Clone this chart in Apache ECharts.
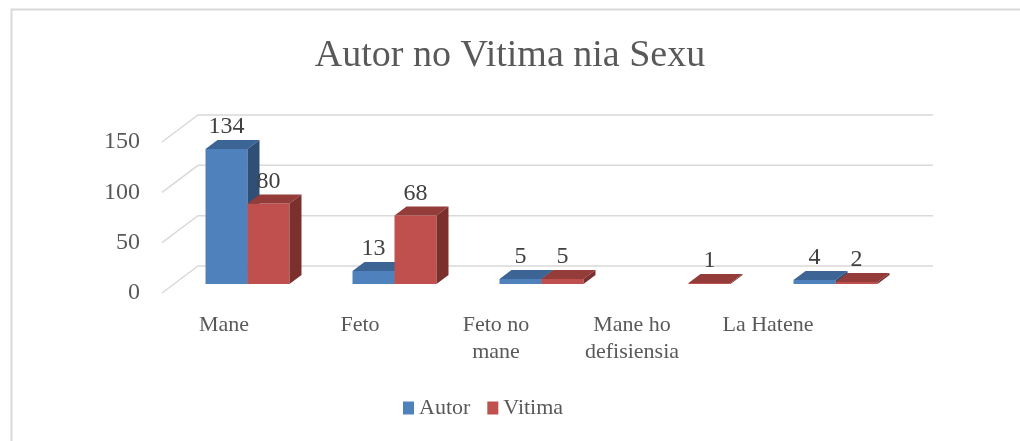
<!DOCTYPE html>
<html>
<head>
<meta charset="utf-8">
<script src="https://cdn.jsdelivr.net/npm/echarts@6/dist/echarts.min.js"></script>
<style>
  html, body { margin: 0; padding: 0; background: #fff; }
  #chart { width: 1020px; height: 441px; }
</style>
</head>
<body>
<div id="chart"></div>
<script>
const categories = ['Mane', 'Feto', 'Feto no mane', 'Mane ho defisiensia', 'La Hatene'];
const labelNames = ['Mane', 'Feto', 'Feto no\nmane', 'Mane ho\ndefisiensia', 'La Hatene'];
const autor = [134, 13, 5, null, 4];
const vitima = [80, 68, 5, 1, 2];
const yTicks = [0, 50, 100, 150];

const font = 'Liberation Serif, serif';
const textColor = '#595959';
const gridColor = '#d9d9d9';

// depth of the back wall, bar sits in the middle third
const wallDx = 36, wallDy = -27;
const barDx = 12, barDy = -9;
const barW = 42;

const faces = {
  Autor: { front: '#4f81bd', top: '#3c6494', side: '#2f4f77' },
  Vitima: { front: '#c0504d', top: '#943c3a', side: '#7b302e' },
};

const chartsDom = document.getElementById('chart');
const mychart = echarts.init(chartsDom);

function barRenderer(name, slot) {
  const c = faces[name];
  return function (params, api) {
    const v = api.value(1);
    if (v == null || isNaN(v)) return;
    const top = api.coord([api.value(0), v]);
    const base = api.coord([api.value(0), 0]);
    const x0 = top[0] + barDx - barW + slot * barW;
    const x1 = x0 + barW;
    const yT = top[1] + barDy;
    const yB = base[1] + barDy;
    return {
      type: 'group',
      children: [
        { type: 'rect', shape: { x: x0, y: yT, width: barW, height: yB - yT }, style: { fill: c.front } },
        { type: 'polygon', shape: { points: [[x0, yT], [x1, yT], [x1 + barDx, yT + barDy], [x0 + barDx, yT + barDy]] }, style: { fill: c.top } },
        { type: 'polygon', shape: { points: [[x1, yT], [x1 + barDx, yT + barDy], [x1 + barDx, yB + barDy], [x1, yB]] }, style: { fill: c.side } },
        {
          type: 'text',
          style: {
            text: String(v), x: x0 + barW / 2, y: yT + barDy - 1,
            align: 'center', verticalAlign: 'bottom',
            fill: '#404040', font: '24px ' + font,
          },
        },
      ],
    };
  };
}

const option = {
  animation: false,
  title: {
    text: 'Autor no Vitima nia Sexu',
    left: 'center',
    top: 32,
    textStyle: { color: textColor, fontFamily: font, fontSize: 38, fontWeight: 'normal' },
  },
  legend: {
    data: ['Autor', 'Vitima'],
    left: 398,
    top: 392,
    icon: 'rect',
    itemWidth: 11,
    itemHeight: 13,
    itemGap: 17,
    textStyle: { color: textColor, fontFamily: font, fontSize: 22 },
  },
  grid: [
    { left: 162, right: 123, top: 142, bottom: 148 },
    { left: 156, right: 184, top: 142, bottom: 148 },
  ],
  xAxis: [
    {
      type: 'category', gridIndex: 0, data: categories,
      axisLine: { show: false }, axisTick: { show: false }, axisLabel: { show: false },
    },
    {
      type: 'category', gridIndex: 1, data: labelNames,
      axisLine: { show: false }, axisTick: { show: false },
      axisLabel: { color: textColor, fontFamily: font, fontSize: 22, lineHeight: 27, margin: 19, interval: 0 },
    },
  ],
  yAxis: [
    {
      type: 'value', gridIndex: 0, min: 0, max: 150, interval: 50,
      axisLine: { show: false }, axisTick: { show: false }, splitLine: { show: false },
      axisLabel: { color: textColor, fontFamily: font, fontSize: 24, margin: 22 },
    },
    {
      type: 'value', gridIndex: 1, min: 0, max: 150, interval: 50, show: false,
    },
  ],
  series: [
    {
      name: 'walls',
      type: 'custom',
      xAxisIndex: 0, yAxisIndex: 0,
      silent: true,
      data: yTicks.map((t) => [0, t]),
      renderItem: function (params, api) {
        const p = api.coord([0, api.value(1)]);
        const band = api.size([1, 0])[0];
        const xa = p[0] - band / 2;
        const xb = xa + band * categories.length;
        return {
          type: 'polyline',
          shape: { points: [[xa, p[1]], [xa + wallDx, p[1] + wallDy], [xb + wallDx, p[1] + wallDy]] },
          style: { stroke: gridColor, lineWidth: 1.5, fill: null },
        };
      },
      z: 1,
    },
    {
      name: 'Autor',
      type: 'custom',
      xAxisIndex: 0, yAxisIndex: 0,
      itemStyle: { color: faces.Autor.front },
      data: autor.map((v, i) => [i, v]),
      renderItem: barRenderer('Autor', 0),
      z: 2,
    },
    {
      name: 'Vitima',
      type: 'custom',
      xAxisIndex: 0, yAxisIndex: 0,
      itemStyle: { color: faces.Vitima.front },
      data: vitima.map((v, i) => [i, v]),
      renderItem: barRenderer('Vitima', 1),
      z: 3,
    },
  ],
  graphic: [
    {
      type: 'polyline',
      shape: { points: [[11.5, 441], [11.5, 9.5], [1020, 9.5]] },
      style: { stroke: '#d9d9d9', lineWidth: 2, fill: null },
    },
  ],
};

mychart.setOption(option);

window.addEventListener('resize', () => {
  mychart.resize();
});
</script>
</body>
</html>
